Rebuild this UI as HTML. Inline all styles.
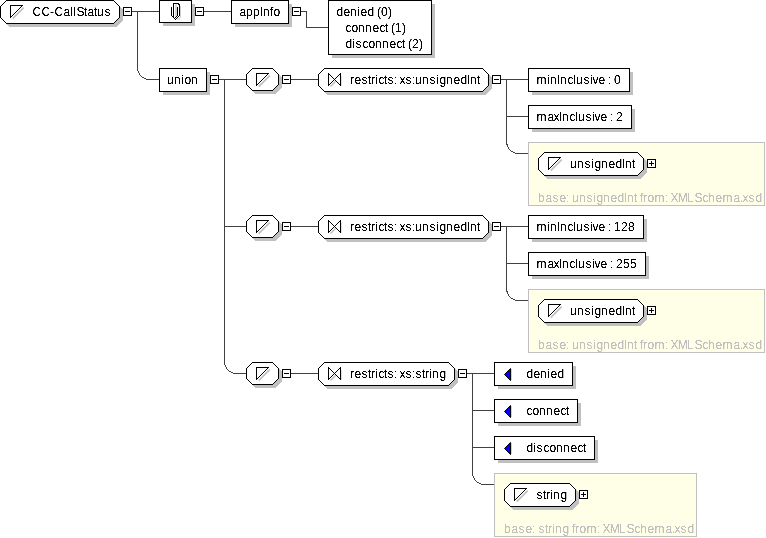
<!DOCTYPE html>
<html><head><meta charset="utf-8"><title>CC-CallStatus</title>
<style>
html,body{margin:0;padding:0;background:#fff;}
svg{display:block;font-family:"Liberation Sans",sans-serif;}
text{white-space:pre;}
</style></head><body>
<svg width="766" height="538" viewBox="0 0 766 538" shape-rendering="crispEdges">
<rect width="766" height="538" fill="#fff"/>
<defs><filter id="gs" x="0" y="0" width="766" height="538" filterUnits="userSpaceOnUse" color-interpolation-filters="sRGB"><feColorMatrix type="saturate" values="0"/><feComponentTransfer><feFuncA type="linear" slope="3" intercept="-0.8"/></feComponentTransfer></filter></defs>
<polygon points="9.5,3.5 116.5,3.5 122.5,9.5 122.5,20.5 116.5,26.5 9.5,26.5 3.5,20.5 3.5,9.5" fill="#c0c0c0" stroke="#c0c0c0" stroke-width="1"/>
<polygon points="6.5,0.5 113.5,0.5 119.5,6.5 119.5,17.5 113.5,23.5 6.5,23.5 0.5,17.5 0.5,6.5" fill="#fff" stroke="#000"/>
<path d="M12.7,18.7 L23.7,7.7" stroke="#c0c0c0" stroke-width="1.7" fill="none" shape-rendering="geometricPrecision"/>
<polygon points="10.5,5.5 22.5,5.5 10.5,17.5" fill="#fff" stroke="#000"/>
<rect x="123.5" y="7.5" width="8" height="8" fill="#fff" stroke="#000"/>
<rect x="125" y="11" width="5" height="1" fill="#000"/>
<rect x="132" y="11" width="27" height="1" fill="#404040"/>
<path d="M137.5,12 V67.5 A12,12 0 0 0 149.5,79.5 H159" fill="none" stroke="#404040" stroke-width="1"/>
<rect x="163" y="4" width="32" height="22" fill="#c0c0c0"/>
<rect x="159.5" y="0.5" width="32" height="22" fill="#fff" stroke="#000"/>
<rect x="174" y="4" width="3" height="13" fill="#ececec"/>
<rect x="175" y="5" width="2" height="11" fill="#d8d8d8"/>
<rect x="174" y="4" width="1" height="13" fill="#fff"/>
<rect x="180" y="6" width="1" height="11" fill="#d0d0d0"/>
<rect x="177" y="19" width="3" height="1" fill="#d8d8d8"/>
<rect x="178" y="18" width="2" height="1" fill="#d8d8d8"/>
<rect x="179" y="17" width="2" height="1" fill="#d8d8d8"/>
<rect x="171" y="7" width="1" height="9" fill="#000"/>
<rect x="172" y="16" width="1" height="1" fill="#000"/>
<rect x="173" y="17" width="1" height="1" fill="#000"/>
<rect x="174" y="18" width="1" height="1" fill="#000"/>
<rect x="175" y="19" width="1" height="1" fill="#000"/>
<rect x="173" y="3" width="1" height="14" fill="#000"/>
<rect x="173" y="3" width="6" height="1" fill="#000"/>
<rect x="178" y="4" width="2" height="1" fill="#000"/>
<rect x="179" y="5" width="1" height="11" fill="#000"/>
<rect x="177" y="7" width="1" height="9" fill="#000"/>
<rect x="178" y="16" width="1" height="1" fill="#000"/>
<rect x="177" y="17" width="1" height="1" fill="#000"/>
<rect x="176" y="18" width="1" height="1" fill="#000"/>
<rect x="176" y="16" width="1" height="1" fill="#000"/>
<rect x="175" y="17" width="1" height="1" fill="#000"/>
<rect x="195.5" y="7.5" width="8" height="8" fill="#fff" stroke="#000"/>
<rect x="197" y="11" width="5" height="1" fill="#000"/>
<rect x="204" y="11" width="27" height="1" fill="#404040"/>
<rect x="235" y="4" width="57" height="23" fill="#c0c0c0"/>
<rect x="231.5" y="0.5" width="57" height="23" fill="#fff" stroke="#000"/>
<rect x="292.5" y="7.5" width="8" height="8" fill="#fff" stroke="#000"/>
<rect x="294" y="11" width="5" height="1" fill="#000"/>
<path d="M301,11.5 H306.5 V27.5 H328" fill="none" stroke="#404040"/>
<rect x="332" y="4" width="103" height="54" fill="#c0c0c0"/>
<rect x="328.5" y="0.5" width="103" height="54" fill="#fff" stroke="#000"/>
<rect x="163" y="72" width="47" height="23" fill="#c0c0c0"/>
<rect x="159.5" y="68.5" width="47" height="23" fill="#fff" stroke="#000"/>
<rect x="210.5" y="75.5" width="8" height="8" fill="#fff" stroke="#000"/>
<rect x="212" y="79" width="5" height="1" fill="#000"/>
<rect x="219" y="79" width="27" height="1" fill="#404040"/>
<path d="M224.5,80 V361.5 A12,12 0 0 0 236.5,373.5 H246" fill="none" stroke="#404040" stroke-width="1"/>
<polygon points="255.5,71.5 275.5,71.5 281.5,77.5 281.5,87.5 275.5,93.5 255.5,93.5 249.5,87.5 249.5,77.5" fill="#c0c0c0" stroke="#c0c0c0" stroke-width="1"/>
<polygon points="252.5,68.5 272.5,68.5 278.5,74.5 278.5,84.5 272.5,90.5 252.5,90.5 246.5,84.5 246.5,74.5" fill="#fff" stroke="#000"/>
<path d="M258.7,86.7 L269.7,75.7" stroke="#c0c0c0" stroke-width="1.7" fill="none" shape-rendering="geometricPrecision"/>
<polygon points="256.5,73.5 268.5,73.5 256.5,85.5" fill="#fff" stroke="#000"/>
<rect x="282.5" y="75.5" width="8" height="8" fill="#fff" stroke="#000"/>
<rect x="284" y="79" width="5" height="1" fill="#000"/>
<rect x="291" y="79" width="27" height="1" fill="#404040"/>
<polygon points="327.5,71.5 485.5,71.5 491.5,77.5 491.5,88.5 485.5,94.5 327.5,94.5 321.5,88.5 321.5,77.5" fill="#c0c0c0" stroke="#c0c0c0" stroke-width="1"/>
<polygon points="324.5,68.5 482.5,68.5 488.5,74.5 488.5,85.5 482.5,91.5 324.5,91.5 318.5,85.5 318.5,74.5" fill="#fff" stroke="#000"/>
<path d="M330.5,86.5 L335.5,81.5" stroke="#c0c0c0" stroke-width="1.6" fill="none" shape-rendering="geometricPrecision"/>
<rect x="341" y="76" width="1" height="10" fill="#e0e0e0"/>
<path d="M328.5,73.5 L328.5,85.5 L340.5,73.5 L340.5,85.5 Z" fill="#fff" stroke="#000"/>
<rect x="492.5" y="75.5" width="8" height="8" fill="#fff" stroke="#000"/>
<rect x="494" y="79" width="5" height="1" fill="#000"/>
<rect x="501" y="79" width="27" height="1" fill="#404040"/>
<rect x="506" y="116" width="22" height="1" fill="#404040"/>
<path d="M506.5,80 V141.5 A12,12 0 0 0 518.5,153.5 H528" fill="none" stroke="#404040" stroke-width="1"/>
<rect x="532" y="72" width="101" height="23" fill="#c0c0c0"/>
<rect x="528.5" y="68.5" width="101" height="23" fill="#fff" stroke="#000"/>
<rect x="532" y="109" width="103" height="23" fill="#c0c0c0"/>
<rect x="528.5" y="105.5" width="103" height="23" fill="#fff" stroke="#000"/>
<rect x="528.5" y="142.5" width="236" height="63" fill="#ffffe8" stroke="#c0c0c0"/>
<polygon points="547.5,155.5 640.5,155.5 646.5,161.5 646.5,172.5 640.5,178.5 547.5,178.5 541.5,172.5 541.5,161.5" fill="#c0c0c0" stroke="#c0c0c0" stroke-width="1"/>
<polygon points="544.5,152.5 637.5,152.5 643.5,158.5 643.5,169.5 637.5,175.5 544.5,175.5 538.5,169.5 538.5,158.5" fill="#fff" stroke="#000"/>
<path d="M550.7,170.7 L561.7,159.7" stroke="#c0c0c0" stroke-width="1.7" fill="none" shape-rendering="geometricPrecision"/>
<polygon points="548.5,157.5 560.5,157.5 548.5,169.5" fill="#fff" stroke="#000"/>
<rect x="647.5" y="159.5" width="8" height="8" fill="#fff" stroke="#000"/>
<rect x="649" y="163" width="5" height="1" fill="#000"/>
<rect x="651" y="161" width="1" height="5" fill="#000"/>
<rect x="225" y="226" width="21" height="1" fill="#404040"/>
<polygon points="255.5,218.5 275.5,218.5 281.5,224.5 281.5,234.5 275.5,240.5 255.5,240.5 249.5,234.5 249.5,224.5" fill="#c0c0c0" stroke="#c0c0c0" stroke-width="1"/>
<polygon points="252.5,215.5 272.5,215.5 278.5,221.5 278.5,231.5 272.5,237.5 252.5,237.5 246.5,231.5 246.5,221.5" fill="#fff" stroke="#000"/>
<path d="M258.7,233.7 L269.7,222.7" stroke="#c0c0c0" stroke-width="1.7" fill="none" shape-rendering="geometricPrecision"/>
<polygon points="256.5,220.5 268.5,220.5 256.5,232.5" fill="#fff" stroke="#000"/>
<rect x="282.5" y="222.5" width="8" height="8" fill="#fff" stroke="#000"/>
<rect x="284" y="226" width="5" height="1" fill="#000"/>
<rect x="291" y="226" width="27" height="1" fill="#404040"/>
<polygon points="327.5,218.5 485.5,218.5 491.5,224.5 491.5,235.5 485.5,241.5 327.5,241.5 321.5,235.5 321.5,224.5" fill="#c0c0c0" stroke="#c0c0c0" stroke-width="1"/>
<polygon points="324.5,215.5 482.5,215.5 488.5,221.5 488.5,232.5 482.5,238.5 324.5,238.5 318.5,232.5 318.5,221.5" fill="#fff" stroke="#000"/>
<path d="M330.5,233.5 L335.5,228.5" stroke="#c0c0c0" stroke-width="1.6" fill="none" shape-rendering="geometricPrecision"/>
<rect x="341" y="223" width="1" height="10" fill="#e0e0e0"/>
<path d="M328.5,220.5 L328.5,232.5 L340.5,220.5 L340.5,232.5 Z" fill="#fff" stroke="#000"/>
<rect x="492.5" y="222.5" width="8" height="8" fill="#fff" stroke="#000"/>
<rect x="494" y="226" width="5" height="1" fill="#000"/>
<rect x="501" y="226" width="27" height="1" fill="#404040"/>
<rect x="506" y="263" width="22" height="1" fill="#404040"/>
<path d="M506.5,227 V288.5 A12,12 0 0 0 518.5,300.5 H528" fill="none" stroke="#404040" stroke-width="1"/>
<rect x="532" y="219" width="115" height="23" fill="#c0c0c0"/>
<rect x="528.5" y="215.5" width="115" height="23" fill="#fff" stroke="#000"/>
<rect x="532" y="256" width="117" height="23" fill="#c0c0c0"/>
<rect x="528.5" y="252.5" width="117" height="23" fill="#fff" stroke="#000"/>
<rect x="528.5" y="289.5" width="236" height="63" fill="#ffffe8" stroke="#c0c0c0"/>
<polygon points="547.5,302.5 640.5,302.5 646.5,308.5 646.5,319.5 640.5,325.5 547.5,325.5 541.5,319.5 541.5,308.5" fill="#c0c0c0" stroke="#c0c0c0" stroke-width="1"/>
<polygon points="544.5,299.5 637.5,299.5 643.5,305.5 643.5,316.5 637.5,322.5 544.5,322.5 538.5,316.5 538.5,305.5" fill="#fff" stroke="#000"/>
<path d="M550.7,317.7 L561.7,306.7" stroke="#c0c0c0" stroke-width="1.7" fill="none" shape-rendering="geometricPrecision"/>
<polygon points="548.5,304.5 560.5,304.5 548.5,316.5" fill="#fff" stroke="#000"/>
<rect x="647.5" y="306.5" width="8" height="8" fill="#fff" stroke="#000"/>
<rect x="649" y="310" width="5" height="1" fill="#000"/>
<rect x="651" y="308" width="1" height="5" fill="#000"/>
<polygon points="255.5,365.5 275.5,365.5 281.5,371.5 281.5,381.5 275.5,387.5 255.5,387.5 249.5,381.5 249.5,371.5" fill="#c0c0c0" stroke="#c0c0c0" stroke-width="1"/>
<polygon points="252.5,362.5 272.5,362.5 278.5,368.5 278.5,378.5 272.5,384.5 252.5,384.5 246.5,378.5 246.5,368.5" fill="#fff" stroke="#000"/>
<path d="M258.7,380.7 L269.7,369.7" stroke="#c0c0c0" stroke-width="1.7" fill="none" shape-rendering="geometricPrecision"/>
<polygon points="256.5,367.5 268.5,367.5 256.5,379.5" fill="#fff" stroke="#000"/>
<rect x="282.5" y="369.5" width="8" height="8" fill="#fff" stroke="#000"/>
<rect x="284" y="373" width="5" height="1" fill="#000"/>
<rect x="291" y="373" width="27" height="1" fill="#404040"/>
<polygon points="327.5,365.5 451.5,365.5 457.5,371.5 457.5,382.5 451.5,388.5 327.5,388.5 321.5,382.5 321.5,371.5" fill="#c0c0c0" stroke="#c0c0c0" stroke-width="1"/>
<polygon points="324.5,362.5 448.5,362.5 454.5,368.5 454.5,379.5 448.5,385.5 324.5,385.5 318.5,379.5 318.5,368.5" fill="#fff" stroke="#000"/>
<path d="M330.5,380.5 L335.5,375.5" stroke="#c0c0c0" stroke-width="1.6" fill="none" shape-rendering="geometricPrecision"/>
<rect x="341" y="370" width="1" height="10" fill="#e0e0e0"/>
<path d="M328.5,367.5 L328.5,379.5 L340.5,367.5 L340.5,379.5 Z" fill="#fff" stroke="#000"/>
<rect x="458.5" y="369.5" width="8" height="8" fill="#fff" stroke="#000"/>
<rect x="460" y="373" width="5" height="1" fill="#000"/>
<rect x="467" y="373" width="27" height="1" fill="#404040"/>
<rect x="472" y="410" width="22" height="1" fill="#404040"/>
<rect x="472" y="447" width="22" height="1" fill="#404040"/>
<path d="M472.5,374 V472.5 A12,12 0 0 0 484.5,484.5 H494" fill="none" stroke="#404040" stroke-width="1"/>
<rect x="498" y="366" width="78" height="23" fill="#c0c0c0"/>
<rect x="494.5" y="362.5" width="78" height="23" fill="#fff" stroke="#000"/>
<rect x="511" y="369" width="1" height="11" fill="#d0d0d0"/>
<polygon points="504.5,374.5 510.5,368.5 510.5,380.5" fill="#0000ff" stroke="#000" stroke-width="1" shape-rendering="geometricPrecision"/>
<rect x="498" y="403" width="83" height="23" fill="#c0c0c0"/>
<rect x="494.5" y="399.5" width="83" height="23" fill="#fff" stroke="#000"/>
<rect x="511" y="406" width="1" height="11" fill="#d0d0d0"/>
<polygon points="504.5,411.5 510.5,405.5 510.5,417.5" fill="#0000ff" stroke="#000" stroke-width="1" shape-rendering="geometricPrecision"/>
<rect x="498" y="440" width="100" height="23" fill="#c0c0c0"/>
<rect x="494.5" y="436.5" width="100" height="23" fill="#fff" stroke="#000"/>
<rect x="511" y="443" width="1" height="11" fill="#d0d0d0"/>
<polygon points="504.5,448.5 510.5,442.5 510.5,454.5" fill="#0000ff" stroke="#000" stroke-width="1" shape-rendering="geometricPrecision"/>
<rect x="494.5" y="473.5" width="202" height="63" fill="#ffffe8" stroke="#c0c0c0"/>
<polygon points="513.5,486.5 572.5,486.5 578.5,492.5 578.5,503.5 572.5,509.5 513.5,509.5 507.5,503.5 507.5,492.5" fill="#c0c0c0" stroke="#c0c0c0" stroke-width="1"/>
<polygon points="510.5,483.5 569.5,483.5 575.5,489.5 575.5,500.5 569.5,506.5 510.5,506.5 504.5,500.5 504.5,489.5" fill="#fff" stroke="#000"/>
<path d="M516.7,501.7 L527.7,490.7" stroke="#c0c0c0" stroke-width="1.7" fill="none" shape-rendering="geometricPrecision"/>
<polygon points="514.5,488.5 526.5,488.5 514.5,500.5" fill="#fff" stroke="#000"/>
<rect x="579.5" y="490.5" width="8" height="8" fill="#fff" stroke="#000"/>
<rect x="581" y="494" width="5" height="1" fill="#000"/>
<rect x="583" y="492" width="1" height="5" fill="#000"/>
<g filter="url(#gs)">
<text x="32.4 41.4 50 54.4 63.4 70 73 76.4 84 87.4 94 97 104.4" y="16" fill="#000" font-size="12">CC-CallStatus</text>
<text x="239.4 246 253 260 263 270 273.4" y="16" fill="#000" font-size="12">appInfo</text>
<text x="336.4 343.4 350 357 360.4 367.4 374 377 381 388" y="16" fill="#000" font-size="12">denied (0)</text>
<text x="345.4 351.4 358 365 372.4 379.4 385 388 391 395 402" y="32" fill="#000" font-size="12">connect (1)</text>
<text x="345.4 352 355.4 362.4 368.4 375 382 389.4 396.4 402 405 408 412 419" y="48" fill="#000" font-size="12">disconnect (2)</text>
<text x="167 174 181 184.4 191" y="84" fill="#000" font-size="12">union</text>
<text x="350 354.4 361.4 368 371 375 378.4 384 387.4 394 397 399.6 405.4 412 415 422 429.4 436 439.4 446 453.4 460.4 467 470 477" y="84" fill="#000" font-size="12">restricts: xs:unsignedInt</text>
<text x="536.5 547 550 557 560 567.4 573 576 583.4 590 592.6 598.4 605 608 611 614" y="84" fill="#000" font-size="12">minInclusive : 0</text>
<text x="536.5 547.4 553.6 559 562 569.4 575 578 585.4 592 594.6 600.4 607 610 613 616" y="121" fill="#000" font-size="12">maxInclusive : 2</text>
<text x="570 577 584.4 591 594.4 601 608.4 615.4 622 625 632" y="168" fill="#000" font-size="12">unsignedInt</text>
<text x="538 545.4 552.4 559.4 566 569 572 579 586.4 593 596.4 603 610.4 617.4 624 627 634 637 640 643 647.4 654.5 665 668 670.5 677.8 687 694.4 702.4 708 715.4 722.5 733.4 740 742.6 748.4 755.4" y="202" fill="#c0c0c0" font-size="12">base: unsignedInt from: XMLSchema.xsd</text>
<text x="350 354.4 361.4 368 371 375 378.4 384 387.4 394 397 399.6 405.4 412 415 422 429.4 436 439.4 446 453.4 460.4 467 470 477" y="231" fill="#000" font-size="12">restricts: xs:unsignedInt</text>
<text x="536.5 547 550 557 560 567.4 573 576 583.4 590 592.6 598.4 605 608 611 614 621 628" y="231" fill="#000" font-size="12">minInclusive : 128</text>
<text x="536.5 547.4 553.6 559 562 569.4 575 578 585.4 592 594.6 600.4 607 610 613 616 623 630" y="268" fill="#000" font-size="12">maxInclusive : 255</text>
<text x="570 577 584.4 591 594.4 601 608.4 615.4 622 625 632" y="315" fill="#000" font-size="12">unsignedInt</text>
<text x="538 545.4 552.4 559.4 566 569 572 579 586.4 593 596.4 603 610.4 617.4 624 627 634 637 640 643 647.4 654.5 665 668 670.5 677.8 687 694.4 702.4 708 715.4 722.5 733.4 740 742.6 748.4 755.4" y="349" fill="#c0c0c0" font-size="12">base: unsignedInt from: XMLSchema.xsd</text>
<text x="350 354.4 361.4 368 371 375 378.4 384 387.4 394 397 399.6 405.4 412 415.4 422 425 429 432 439.4" y="378" fill="#000" font-size="12">restricts: xs:string</text>
<text x="526.4 533.4 540 547 550.4 557.4" y="378" fill="#000" font-size="12">denied</text>
<text x="526.4 532.4 539 546 553.4 560.4 566" y="415" fill="#000" font-size="12">connect</text>
<text x="526.4 533 536.4 543.4 549.4 556 563 570.4 577.4 583" y="452" fill="#000" font-size="12">disconnect</text>
<text x="536.4 543 546 550 553 560.4" y="499" fill="#000" font-size="12">string</text>
<text x="504 511.4 518.4 525.4 532 535 538.4 545 548 552 555 562.4 569 572 575 579.4 586.5 597 600 602.5 609.8 619 626.4 634.4 640 647.4 654.5 665.4 672 674.6 680.4 687.4" y="533" fill="#c0c0c0" font-size="12">base: string from: XMLSchema.xsd</text>
</g>
</svg>
</body></html>
